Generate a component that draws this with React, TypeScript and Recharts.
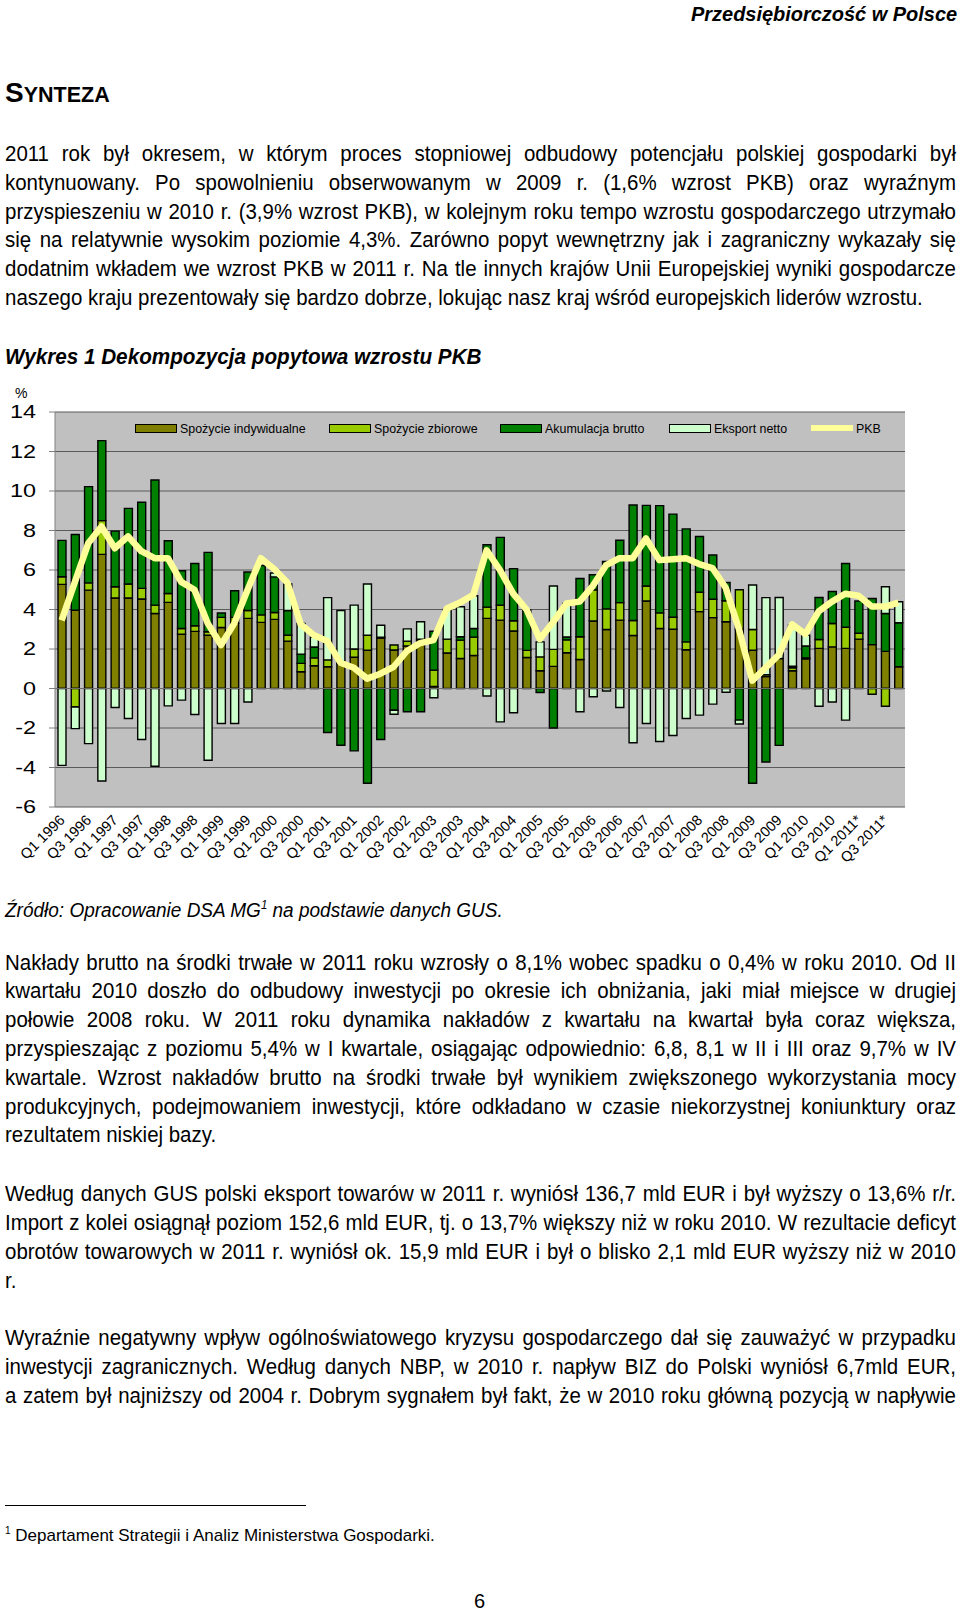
import React from "react";
import { ComposedChart, Bar, Line, XAxis, YAxis, CartesianGrid, ReferenceLine } from "recharts";

const quarters = [
  "Q1 1996", "Q2 1996", "Q3 1996", "Q4 1996", "Q1 1997", "Q2 1997", "Q3 1997", "Q4 1997",
  "Q1 1998", "Q2 1998", "Q3 1998", "Q4 1998", "Q1 1999", "Q2 1999", "Q3 1999", "Q4 1999",
  "Q1 2000", "Q2 2000", "Q3 2000", "Q4 2000", "Q1 2001", "Q2 2001", "Q3 2001", "Q4 2001",
  "Q1 2002", "Q2 2002", "Q3 2002", "Q4 2002", "Q1 2003", "Q2 2003", "Q3 2003", "Q4 2003",
  "Q1 2004", "Q2 2004", "Q3 2004", "Q4 2004", "Q1 2005", "Q2 2005", "Q3 2005", "Q4 2005",
  "Q1 2006", "Q2 2006", "Q3 2006", "Q4 2006", "Q1 2007", "Q2 2007", "Q3 2007", "Q4 2007",
  "Q1 2008", "Q2 2008", "Q3 2008", "Q4 2008", "Q1 2009", "Q2 2009", "Q3 2009", "Q4 2009",
  "Q1 2010", "Q2 2010", "Q3 2010", "Q4 2010", "Q1 2011*", "Q2 2011*", "Q3 2011*", "Q4 2011*",
];

// spożycie indywidualne
const indywidualne = [
  5.27, 3.97, 4.98, 6.79, 4.58, 4.58, 4.53, 3.8, 4.36, 2.75, 2.89, 2.7, 3.09, 3.3, 3.55, 3.35,
  3.5, 2.4, 0.85, 1.15, 1.1, 1.25, 1.58, 1.94, 2.55, 1.95, 2.15, 2.45, 0.1, 1.8, 1.52, 1.67,
  3.55, 3.46, 2.91, 1.57, 0.9, 1.12, 1.81, 1.47, 3.42, 2.99, 3.46, 2.68, 4.43, 3.04, 3.0, 1.96,
  3.89, 3.59, 3.38, 3.0, 1.94, 0.6, 1.52, 0.9, 1.5, 2.03, 2.11, 2.03, 2.5, 2.22, 1.88, 1.1,
];
// spożycie zbiorowe
const zbiorowe = [
  0.39, -0.94, 0.37, 1.71, 0.57, 0.71, 0.54, 0.42, 0.45, 0.29, 0.29, 0.17, 0.51, 0.3, 0.4, 0.38,
  0.35, 0.3, 0.42, 0.4, 0.35, 0.1, 0.42, 0.76, 0.05, 0.25, 0.25, 0.05, 0.83, 0.7, 0.93, 0.93,
  0.57, 0.76, 0.52, 0.36, 0.7, 0.86, 0.65, 1.15, 1.58, 1.04, 0.89, 0.76, 0.76, 0.79, 0.61, 0.4,
  0.98, 0.93, 1.06, 2.0, 1.05, 0.1, 0.0, 0.15, 0.05, 0.45, 1.18, 1.07, 0.3, -0.29, -0.9, 0.0,
];
// akumulacja brutto
const akumulacja = [
  1.84, 3.83, 4.87, 4.05, 2.82, 3.83, 4.36, 6.34, 2.67, 2.92, 3.15, 4.02, 0.22, 1.35, 1.95, 2.5,
  1.8, 1.25, 0.47, 0.55, -2.23, -2.87, -3.16, -4.8, -2.58, -1.1, -1.18, -1.18, 1.97, 0.0, 0.17, 0.44,
  3.16, 3.43, 2.64, 2.05, -0.2, -2.0, 0.15, 2.95, 0.76, 2.4, 3.16, 5.85, 4.08, 5.43, 5.22, 5.72,
  2.83, 2.24, 0.93, -1.6, -4.8, -3.72, -2.88, 0.08, 0.6, 2.13, 1.62, 3.23, 1.63, 2.34, 1.92, 2.23,
];
// eksport netto
const eksport = [
  -3.89, -1.09, -2.79, -4.68, -0.96, -1.52, -2.58, -3.94, -0.88, -0.59, -1.32, -3.63, -1.77, -1.77, -0.68, 0.0,
  0.2, 1.35, 1.56, 0.5, 3.15, 2.6, 2.22, 2.59, 0.6, -0.2, 0.62, 0.88, -0.47, 1.5, 1.52, 1.66,
  -0.38, -1.69, -1.23, 0.0, 0.76, 3.21, 1.7, -1.18, -0.42, -0.13, -0.96, -2.75, -1.77, -2.68, -2.38, -1.52,
  -1.35, -0.79, -0.19, -0.2, 2.25, 3.9, 3.09, 2.08, 0.55, -0.9, -0.68, -1.6, 0.0, 0.0, 1.35, 1.06,
];
// PKB r/r
const pkb = [
  3.45, 5.4, 7.35, 8.2, 7.1, 7.7, 6.95, 6.6, 6.6, 5.4, 5.0, 3.3, 2.2, 3.3, 5.0, 6.6,
  6.05, 5.35, 3.25, 2.7, 2.4, 1.3, 1.05, 0.5, 0.75, 1.1, 1.9, 2.3, 2.45, 4.05, 4.35, 4.75,
  7.0, 6.0, 4.8, 4.0, 2.5, 3.35, 4.3, 4.4, 5.2, 6.25, 6.6, 6.6, 7.6, 6.5, 6.55, 6.6,
  6.3, 6.1, 5.1, 3.0, 0.4, 1.05, 1.7, 3.25, 2.75, 3.9, 4.4, 4.8, 4.7, 4.15, 4.15, 4.35,
];

const seriesNames = ["Spożycie indywidualne", "Spożycie zbiorowe", "Akumulacja brutto", "Eksport netto", "PKB"];
const yTicks = [-6, -4, -2, 0, 2, 4, 6, 8, 10, 12, 14];

const data = quarters.map((q, i) => ({
  q,
  ind: indywidualne[i],
  zb: zbiorowe[i],
  ak: akumulacja[i],
  ex: eksport[i],
  pkb: pkb[i],
}));

const para1 = [
  "2011 rok był okresem, w którym proces stopniowej odbudowy potencjału polskiej gospodarki był",
  "kontynuowany. Po spowolnieniu obserwowanym w 2009 r. (1,6% wzrost PKB) oraz wyraźnym",
  "przyspieszeniu w 2010 r. (3,9% wzrost PKB), w kolejnym roku tempo wzrostu gospodarczego utrzymało",
  "się na relatywnie wysokim poziomie 4,3%. Zarówno popyt wewnętrzny jak i zagraniczny wykazały się",
  "dodatnim wkładem we wzrost PKB w 2011 r. Na tle innych krajów Unii Europejskiej wyniki gospodarcze",
  "naszego kraju prezentowały się bardzo dobrze, lokując nasz kraj wśród europejskich liderów wzrostu.",
];
const para2 = [
  "Nakłady brutto na środki trwałe w 2011 roku wzrosły o 8,1% wobec spadku o 0,4% w roku 2010. Od II",
  "kwartału 2010 doszło do odbudowy inwestycji po okresie ich obniżania, jaki miał miejsce w drugiej",
  "połowie 2008 roku. W 2011 roku dynamika nakładów z kwartału na kwartał była coraz większa,",
  "przyspieszając z poziomu 5,4% w I kwartale, osiągając odpowiednio: 6,8, 8,1 w II i III oraz 9,7% w IV",
  "kwartale. Wzrost nakładów brutto na środki trwałe był wynikiem zwiększonego wykorzystania mocy",
  "produkcyjnych, podejmowaniem inwestycji, które odkładano w czasie niekorzystnej koniunktury oraz",
  "rezultatem niskiej bazy.",
];
const para3 = [
  "Według danych GUS polski eksport towarów w 2011 r. wyniósł 136,7 mld EUR i był wyższy o 13,6% r/r.",
  "Import z kolei osiągnął poziom 152,6 mld EUR, tj. o 13,7% większy niż w roku 2010. W rezultacie deficyt",
  "obrotów towarowych w 2011 r. wyniósł ok. 15,9 mld EUR i był o blisko 2,1 mld EUR wyższy niż w 2010",
  "r.",
];
const para4 = [
  "Wyraźnie negatywny wpływ ogólnoświatowego kryzysu gospodarczego dał się zauważyć w przypadku",
  "inwestycji zagranicznych. Według danych NBP, w 2010 r. napływ BIZ do Polski wyniósł 6,7mld EUR,",
  "a zatem był najniższy od 2004 r. Dobrym sygnałem był fakt, że w 2010 roku główną pozycją w napływie",
];

const SANS = "'Liberation Sans', Arial, sans-serif";
const LH = 28.8;
const SQUEEZE = 0.93; // no Arial Narrow here, so squeeze Arial a bit

const Paragraph = ({ lines, top, justifyLast = false }: { lines: string[]; top: number; justifyLast?: boolean }) => (
  <>
    {lines.map((t, i) => {
      const last = i === lines.length - 1 && !justifyLast;
      return (
        <div
          key={i}
          style={{
            position: "absolute",
            left: 5,
            top: top + i * LH - LH / 2,
            width: 951 / SQUEEZE,
            height: LH,
            lineHeight: LH + "px",
            fontFamily: SANS,
            fontSize: 22,
            textAlign: last ? "left" : "justify",
            textAlignLast: last ? "left" : "justify",
            transform: `scaleX(${SQUEEZE})`,
            transformOrigin: "0 0",
          }}
        >
          {t}
        </div>
      );
    })}
  </>
);

const YTick = (props: any) => {
  const { x, y, payload } = props;
  return (
    <text transform={`translate(${x},${y}) scale(1.3,1)`} textAnchor="end" dy="0.36em" fontSize={18} fontFamily={SANS} fill="#000">
      {payload.value}
    </text>
  );
};

const XTick = (props: any) => {
  const { x, y, payload } = props;
  const px = x + 4;
  const py = y + 14;
  return (
    <text x={px} y={py} transform={`rotate(-45 ${px} ${py})`} textAnchor="end" fontSize={14.5} fontFamily={SANS} fill="#000">
      {payload.value}
    </text>
  );
};

const legendColors = ["#808000", "#99CC00", "#008000", "#CCFFCC", "#FFFF99"];
const legendX = [135, 329, 500, 669, 811];

const ChartLegend = () => (
  <div style={{ position: "absolute", left: 0, top: 418, width: 960, height: 20 }}>
    {seriesNames.map((n, i) => (
      <div key={n} style={{ position: "absolute", left: legendX[i], top: 0, height: 20, display: "flex", alignItems: "center" }}>
        {i < 4 ? (
          <div style={{ width: 40, height: 7, background: legendColors[i], border: "1.5px solid #000" }} />
        ) : (
          <div style={{ width: 42, height: 6, background: legendColors[i] }} />
        )}
        <span style={{ marginLeft: 3, fontFamily: SANS, fontSize: 13.5, color: "#000", display: "inline-block", transform: "scaleX(0.92)", transformOrigin: "0 50%" }}>{n}</span>
      </div>
    ))}
  </div>
);

export default function App() {
  return (
    <div style={{ position: "absolute", left: 0, top: 0, width: 960, height: 1613, background: "#fff", color: "#000", overflow: "hidden" }}>
      <div style={{ position: "absolute", right: 3, top: 1, fontFamily: SANS, fontWeight: "bold", fontStyle: "italic", fontSize: 21, lineHeight: "26px", transform: "scaleX(0.95)", transformOrigin: "100% 0" }}>
        Przedsiębiorczość w Polsce
      </div>
      <div style={{ position: "absolute", left: 5, top: 76, fontFamily: SANS, fontWeight: "bold", fontSize: 28, lineHeight: "34px" }}>
        S<span style={{ fontSize: 21.5 }}>YNTEZA</span>
      </div>

      <Paragraph lines={para1} top={154.3} />

      <div style={{ position: "absolute", left: 5, top: 343, fontFamily: SANS, fontWeight: "bold", fontStyle: "italic", fontSize: 22, lineHeight: "28px", transform: "scaleX(0.94)", transformOrigin: "0 0", whiteSpace: "nowrap" }}>
        Wykres 1 Dekompozycja popytowa wzrostu PKB
      </div>

      <div style={{ position: "absolute", left: 15, top: 385, fontFamily: SANS, fontSize: 14 }}>%</div>

      <div style={{ position: "absolute", left: 0, top: 370 }}>
        <ComposedChart
          width={960}
          height={510}
          data={data}
          stackOffset="sign"
          barSize={8}
          margin={{ top: 42, right: 55, bottom: 0, left: 0 }}
        >
          <CartesianGrid vertical={false} fill="#C0C0C0" stroke="#5a5a5a" strokeWidth={1} fillOpacity={1} />
          <XAxis dataKey="q" interval={1} height={73} tickLine={false} axisLine={false} tick={<XTick />} tickSize={0} tickMargin={0} />
          <YAxis
            width={55}
            domain={[-6, 14]}
            ticks={yTicks}
            interval={0}
            tick={<YTick />}
            tickSize={6}
            tickMargin={13}
            axisLine={{ stroke: "#808080" }}
            tickLine={{ stroke: "#808080" }}
          />
          <ReferenceLine y={0} stroke="#6a6a6a" strokeWidth={1} />
          <Bar dataKey="ind" name={seriesNames[0]} stackId="a" fill="#808000" stroke="#000" strokeWidth={1.4} isAnimationActive={false} />
          <Bar dataKey="zb" name={seriesNames[1]} stackId="a" fill="#99CC00" stroke="#000" strokeWidth={1.4} isAnimationActive={false} />
          <Bar dataKey="ak" name={seriesNames[2]} stackId="a" fill="#008000" stroke="#000" strokeWidth={1.4} isAnimationActive={false} />
          <Bar dataKey="ex" name={seriesNames[3]} stackId="a" fill="#CCFFCC" stroke="#000" strokeWidth={1.4} isAnimationActive={false} />
          <Line
            type="linear"
            dataKey="pkb"
            name={seriesNames[4]}
            stroke="#FFFF99"
            strokeWidth={6.5}
            strokeLinejoin="round"
            dot={false}
            activeDot={false}
            isAnimationActive={false}
          />
        </ComposedChart>
      </div>

      <ChartLegend />

      <div style={{ position: "absolute", left: 5, top: 891, fontFamily: SANS, fontStyle: "italic", fontSize: 20, lineHeight: "28px", transform: "scaleX(0.95)", transformOrigin: "0 0", whiteSpace: "nowrap" }}>
        Źródło: Opracowanie DSA MG<sup style={{ fontSize: 12 }}>1</sup> na podstawie danych GUS.
      </div>

      <Paragraph lines={para2} top={963} />
      <Paragraph lines={para3} top={1194.6} />
      <Paragraph lines={para4} top={1338.6} justifyLast />

      <div style={{ position: "absolute", left: 5, top: 1505, width: 301, height: 1, background: "#000" }} />
      <div style={{ position: "absolute", left: 5, top: 1519, fontFamily: SANS, fontSize: 17, lineHeight: "24px" }}>
        <sup style={{ fontSize: 10 }}>1</sup> Departament Strategii i Analiz Ministerstwa Gospodarki.
      </div>
      <div style={{ position: "absolute", left: 474, top: 1588, fontFamily: SANS, fontSize: 20, lineHeight: "26px" }}>6</div>
    </div>
  );
}
